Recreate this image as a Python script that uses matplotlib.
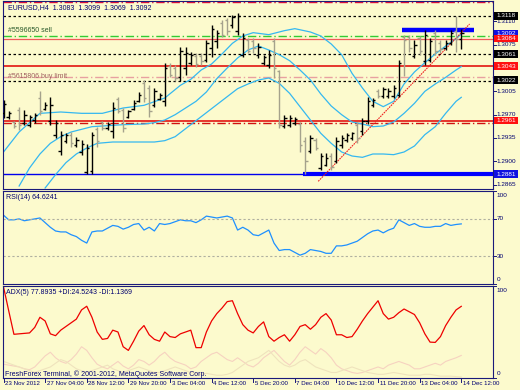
import matplotlib
matplotlib.use('Agg')
import matplotlib.pyplot as plt
import numpy as np
from matplotlib.transforms import blended_transform_factory
from matplotlib.patches import Rectangle

plt.rcParams['font.family'] = ['Liberation Sans', 'DejaVu Sans']

# ---------------- data (EURUSD H4) ----------------
highs = [1.2992, 1.2976, 1.2961, 1.2982, 1.2977, 1.2970, 1.2973, 1.3005, 1.2989, 1.2996,
         1.2962, 1.2946, 1.2943, 1.2944, 1.2937, 1.2932, 1.2926, 1.2944, 1.2952, 1.2961,
         1.2959, 1.2989, 1.2996, 1.2980, 1.2977, 1.2992, 1.3004, 1.3022, 1.3014, 1.3010,
         1.3002, 1.3047, 1.3047, 1.3044, 1.3071, 1.3071, 1.3064, 1.3062, 1.3062, 1.3082,
         1.3104, 1.3097, 1.3112, 1.3115, 1.3120, 1.3122, 1.3092, 1.3085, 1.3085, 1.3077,
         1.3060, 1.3067, 1.3085, 1.3037, 1.2970, 1.2970, 1.2967, 1.2959, 1.2937, 1.2940,
         1.2935, 1.2913, 1.2913, 1.2913, 1.2937, 1.2940, 1.2943, 1.2944, 1.2959, 1.2965,
         1.2996, 1.2995, 1.3008, 1.3011, 1.3010, 1.3014, 1.3052, 1.3090, 1.3090, 1.3082,
         1.3088, 1.3097, 1.3085, 1.3097, 1.3082, 1.3082, 1.3097, 1.3118, 1.3099]
lows = [1.2965, 1.2964, 1.2950, 1.2947, 1.2955, 1.2952, 1.2958, 1.2970, 1.2977, 1.2955,
        1.2935, 1.2910, 1.2928, 1.2922, 1.2922, 1.2910, 1.2881, 1.2881, 1.2922, 1.2947,
        1.2947, 1.2935, 1.2973, 1.2944, 1.2965, 1.2977, 1.2989, 1.2989, 1.2967, 1.2982,
        1.2992, 1.2983, 1.3026, 1.3020, 1.3020, 1.3030, 1.3044, 1.3041, 1.3044, 1.3049,
        1.3056, 1.3070, 1.3086, 1.3090, 1.3100, 1.3090, 1.3056, 1.3062, 1.3062, 1.3055,
        1.3044, 1.3040, 1.3025, 1.2950, 1.2950, 1.2952, 1.2955, 1.2914, 1.2881, 1.2912,
        1.2917, 1.2887, 1.2893, 1.2887, 1.2898, 1.2920, 1.2929, 1.2932, 1.2928, 1.2940,
        1.2956, 1.2982, 1.2995, 1.2995, 1.2995, 1.2995, 1.2996, 1.3028, 1.3064, 1.3055,
        1.3060, 1.3044, 1.3049, 1.3060, 1.3062, 1.3067, 1.3074, 1.3064, 1.3069]
opens = [1.2972, 1.2966, 1.2959, 1.2977, 1.2958, 1.2955, 1.2962, 1.2995, 1.2979, 1.2960,
         1.2940, 1.2915, 1.2930, 1.2940, 1.2925, 1.2914, 1.2884, 1.2885, 1.2948, 1.2959,
         1.2950, 1.2945, 1.2993, 1.2977, 1.2967, 1.2979, 1.2991, 1.3018, 1.3010, 1.2985,
         1.2994, 1.2990, 1.3043, 1.3040, 1.3026, 1.3040, 1.3048, 1.3058, 1.3058, 1.3052,
         1.3070, 1.3080, 1.3108, 1.3112, 1.3104, 1.3096, 1.3060, 1.3082, 1.3080, 1.3060,
         1.3048, 1.3045, 1.3080, 1.3035, 1.2953, 1.2955, 1.2958, 1.2956, 1.2930, 1.2915,
         1.2932, 1.2890, 1.2895, 1.2908, 1.2900, 1.2925, 1.2932, 1.2935, 1.2955, 1.2945,
         1.2960, 1.2985, 1.3005, 1.2998, 1.2998, 1.2998, 1.3000, 1.3086, 1.3086, 1.3058,
         1.3085, 1.3050, 1.3052, 1.3092, 1.3078, 1.3070, 1.3078, 1.3095, 1.3083]
closes = [1.2986, 1.2973, 1.2953, 1.2955, 1.2970, 1.2967, 1.2970, 1.2976, 1.2985, 1.2985,
          1.2958, 1.2940, 1.2940, 1.2928, 1.2932, 1.2926, 1.2920, 1.2940, 1.2930, 1.2950,
          1.2956, 1.2980, 1.2976, 1.2950, 1.2975, 1.2988, 1.3000, 1.2995, 1.2975, 1.3005,
          1.3000, 1.3040, 1.3030, 1.3025, 1.3065, 1.3062, 1.3060, 1.3046, 1.3050, 1.3078,
          1.3098, 1.3092, 1.3090, 1.3095, 1.3116, 1.3118, 1.3085, 1.3066, 1.3070, 1.3072,
          1.3056, 1.3060, 1.3040, 1.2955, 1.2965, 1.2965, 1.2964, 1.2925, 1.2900, 1.2935,
          1.2920, 1.2908, 1.2905, 1.2892, 1.2930, 1.2935, 1.2940, 1.2942, 1.2935, 1.2960,
          1.2990, 1.2992, 1.2998, 1.3008, 1.3006, 1.3010, 1.3048, 1.3082, 1.3070, 1.3075,
          1.3065, 1.3090, 1.3080, 1.3065, 1.3068, 1.3078, 1.3092, 1.3083, 1.3092]

# bands drawn on the price chart (bar index, price)
band_upper_idx = [0, 3, 7, 11, 15, 19, 23, 27, 31, 34, 36, 38, 40, 42, 44, 46, 48, 51, 54, 56,
                  59, 61, 63, 65, 67, 69, 71, 73, 75, 77, 79, 81, 83, 85, 87, 88]
band_upper = [1.2914, 1.2944, 1.2972, 1.2974, 1.2972, 1.2972, 1.2980, 1.2984, 1.2995, 1.3014,
              1.3023, 1.3037, 1.3046, 1.3061, 1.3077, 1.3088, 1.3093, 1.3090, 1.3096, 1.3099,
              1.3094, 1.3088, 1.3076, 1.3060, 1.3032, 1.3010, 1.2990, 1.2982, 1.2990, 1.3016,
              1.3034, 1.3048, 1.3061, 1.3073, 1.3084, 1.3091]
band_mid_idx = [3, 5, 7, 9, 11, 13, 15, 17, 19, 23, 27, 29, 31, 33, 35, 37, 39, 41, 43, 45,
                47, 49, 51, 53, 55, 57, 59, 61, 63, 65, 67, 69, 71, 73, 75, 77, 79, 81, 83, 85,
                87, 88]
band_mid = [1.2863, 1.2890, 1.2911, 1.2927, 1.2937, 1.2944, 1.2948, 1.2952, 1.2953, 1.2955,
            1.2956, 1.2958, 1.2962, 1.2970, 1.2980, 1.2990, 1.3004, 1.3024, 1.3040, 1.3055,
            1.3067, 1.3073, 1.3067, 1.3060, 1.3051, 1.3037, 1.3022, 1.3001, 1.2983, 1.2970,
            1.2959, 1.2956, 1.2952, 1.2953, 1.2959, 1.2972, 1.2987, 1.3005, 1.3016, 1.3026,
            1.3037, 1.3042]
band_lower_idx = [8, 10, 12, 14, 16, 18, 21, 25, 29, 31, 33, 35, 37, 39, 41, 43, 45, 47, 49,
                  51, 53, 55, 57, 59, 61, 63, 65, 67, 69, 71, 73, 75, 77, 79, 81, 83, 85, 87, 88]
band_lower = [1.2860, 1.2880, 1.2898, 1.2911, 1.2920, 1.2927, 1.2929, 1.2929, 1.2929, 1.2931,
              1.2937, 1.2949, 1.2961, 1.2973, 1.2985, 1.2997, 1.3009, 1.3016, 1.3022, 1.3025,
              1.3017, 1.3002, 1.2982, 1.2962, 1.2942, 1.2927, 1.2914, 1.2908, 1.2906, 1.2911,
              1.2911, 1.2910, 1.2914, 1.2923, 1.2940, 1.2952, 1.2972, 1.2990, 1.2996]

rsi = [74, 69, 69, 70, 68, 69, 70, 71, 66, 61,
       57, 56, 56, 53, 51, 47, 44, 56, 57, 57,
       60, 63, 62, 59, 61, 64, 65, 58, 61, 57,
       65, 64, 65, 67, 69, 68, 68, 66, 69, 73,
       72, 71, 72, 73, 71, 58, 61, 58, 53, 52,
       55, 58, 44, 36, 37, 37, 34, 31, 33, 37,
       36, 35, 33, 33, 41, 41, 42, 44, 46, 50,
       54, 57, 58, 55, 58, 60, 69, 66, 63, 65,
       62, 61, 61, 62, 62, 65, 63, 64, 64.6241]
adx = [99, 73, 47.5, 48, 48.5, 49, 55, 66, 62, 48,
       46, 52, 56, 60, 64, 74, 78, 66, 50, 42,
       43, 52, 50, 34, 30, 40, 51, 57, 47, 42,
       40, 50, 45, 44, 48, 50, 52, 33, 33, 50,
       62, 70, 76, 83, 84, 70, 58, 52, 49, 56,
       61, 45, 40, 44, 47, 40, 47, 56, 58, 53,
       58, 66, 70, 63, 47, 47, 44, 45, 53, 62,
       70, 77, 84, 70, 64, 66, 71, 75, 72, 69,
       60, 48, 39, 38.7, 45, 57, 66, 74, 77.8935]
plus_di = [15, 14, 13, 12, 10, 9, 12, 18, 24, 28,
           22, 18, 16, 20, 26, 34, 30, 22, 15, 12,
           10, 14, 18, 13, 10, 14, 20, 18, 14, 18,
           24, 28, 22, 18, 16, 14, 10, 12, 18, 22,
           26, 28, 24, 20, 18, 22, 18, 14, 12, 16,
           22, 26, 30, 24, 18, 14, 20, 28, 34, 30,
           26, 32, 28, 22, 14, 10, 8, 6, 5, 6,
           8, 10, 12, 10, 14, 16, 18, 16, 14, 10,
           10, 12, 14, 16, 14, 18, 20, 22, 24.5243]
minus_di = [18, 16, 14, 12, 10, 8, 6, 8, 10, 12,
            16, 20, 18, 14, 10, 8, 6, 8, 10, 12,
            14, 10, 8, 6, 8, 10, 12, 10, 8, 6,
            6, 8, 10, 12, 10, 8, 6, 5, 4, 5,
            4, 3, 3, 4, 6, 10, 14, 18, 20, 22,
            26, 30, 24, 18, 14, 12, 14, 18, 20, 16,
            12, 10, 8, 6, 6, 8, 10, 12, 10, 8,
            6, 5, 4, 4, 5, 6, 5, 4, 3, 3,
            3, 4, 4, 3, 2, 2, 2, 1.5, 1.1369]

# horizontal levels & drawn objects
level_top = 1.3139
levels_dotted = [1.3118, 1.3061, 1.3021]
level_sell = 1.3088
levels_red = [1.3084, 1.3043, 1.2961]
level_buy_limit = 1.3026
level_red_dashdot = 1.2958
level_support = 1.2881
support_start = 57.6
resist_price = 1.3097
resist_x = [76.7, 90.5]
trend_x = [60.5, 89.6]
trend_y = [1.2870, 1.3106]

price_ticks = [1.3110, 1.3075, 1.3005, 1.2970, 1.2935, 1.2900, 1.2865]
price_boxes = [1.3118, 1.3092, 1.3084, 1.3061, 1.3043, 1.3022, 1.2961, 1.2881]
box_kind = ['k', 'b', 'r', 'k', 'r', 'k', 'r', 'b']
time_pos = [0, 8, 16, 24, 32, 40, 48, 56, 64, 72, 80, 88]
time_labels = ['23 Nov 2012', '27 Nov 04:00', '28 Nov 12:00', '29 Nov 20:00', '3 Dec 04:00',
               '4 Dec 12:00', '5 Dec 20:00', '7 Dec 04:00', '10 Dec 12:00', '11 Dec 20:00',
               '13 Dec 04:00', '14 Dec 12:00']

# ---------------- styling ----------------
BG = '#fcfacd'
NAVY = '#000070'
FRAME = '#1a1a7a'
FS = 5.0      # captions
FSN = 4.6     # scale numbers
FST = 4.4     # time labels
W, H = 520, 390

fig = plt.figure(figsize=(5.2, 3.9), dpi=100, facecolor=BG)

def rect(x0, y0, x1, y1):
    return [x0 / W, 1 - y1 / H, (x1 - x0) / W, (y1 - y0) / H]

ax = fig.add_axes(rect(3, 1, 493, 189))
ax_rsi = fig.add_axes(rect(3, 191, 493, 284))
ax_adx = fig.add_axes(rect(3, 286, 493, 378))
XL = (-0.1, 94.1)
for a in (ax, ax_rsi, ax_adx):
    a.set_facecolor(BG)
    a.set_xlim(*XL)
    a.set_xticks([])
    a.set_yticks([])
    for s in a.spines.values():
        s.set_color(FRAME)
        s.set_linewidth(0.8)

ax.set_ylim(1.28585, 1.31405)

idx = np.arange(len(highs))
o = np.array(opens); c = np.array(closes)
cols = np.where(c >= o, '#000000', '#a5a28c')

# levels
ax.axhline(level_top, color='#e0103a', lw=1.0, ls=(0, (6, 2, 1, 2)))
for lv in levels_dotted:
    ax.axhline(lv, color='#000000', lw=0.9, ls=(0, (2, 2)))
ax.axhline(level_sell, color='#33cc33', lw=1.0, ls=(0, (6, 2, 1, 2)))
ax.axhline(levels_red[0], color='#f05a5a', lw=0.9)
ax.axhline(levels_red[1], color='#e00000', lw=1.1)
ax.axhline(levels_red[2], color='#e00000', lw=1.1)
ax.axhline(level_buy_limit, color='#e8a0a0', lw=1.0, ls=(0, (6, 2, 1, 2)))
ax.axhline(level_red_dashdot, color='#d01010', lw=1.0, ls=(0, (6, 2, 1, 2)))
ax.axhline(level_support, color='#0000ee', lw=1.0)
ax.hlines(level_support, support_start, XL[1], color='#0000ff', lw=3.0)
ax.hlines(resist_price, resist_x[0], resist_x[1], color='#0000ff', lw=3.2)

# bands
band_col = '#35b8f0'
ax.plot(band_upper_idx, band_upper, color=band_col, lw=0.9)
ax.plot(band_mid_idx, band_mid, color=band_col, lw=0.9)
ax.plot(band_lower_idx, band_lower, color=band_col, lw=0.9)

# trend line
ax.plot(trend_x, trend_y, color='#ee2222', lw=0.8, ls=(0, (1.5, 0.8)))

# bars
ax.vlines(idx, lows, highs, colors=cols, lw=1.0, zorder=5)
ax.hlines(opens, idx - 0.45, idx, colors=cols, lw=1.0, zorder=5)
ax.hlines(closes, idx, idx + 0.45, colors=cols, lw=1.0, zorder=5)

# object labels
ax.text(0.8, level_sell + 0.00025, '#5596650 sell', color='#2a5a2a', fontsize=FS,
        va='bottom', ha='left')
ax.text(0.8, level_buy_limit - 0.00035, '#5615806 buy limit', color='#a06060', fontsize=FS,
        va='bottom', ha='left')
ax.text(0.8, 1.3131, 'EURUSD,H4  1.3083  1.3099  1.3069  1.3092', color=NAVY, fontsize=FS,
        va='center', ha='left')

# price scale
tr = blended_transform_factory(ax.transAxes, ax.transData)
for p in price_ticks:
    ax.plot([1.0, 1.006], [p, p], color=FRAME, lw=0.7, transform=tr, clip_on=False)
    ax.text(1.008, p, f'{p:.4f}', color=NAVY, fontsize=FSN, va='center', ha='left',
            transform=tr, clip_on=False)
box_colors = {'k': '#000000', 'b': '#1010e0', 'r': '#ff1010'}
for p, k in zip(price_boxes, box_kind):
    ax.add_patch(Rectangle((1.002, p - 0.00053), 0.049, 0.00106, transform=tr,
                           facecolor=box_colors[k], edgecolor='none', clip_on=False, zorder=10))
    ax.text(1.008, p, f'{p:.4f}', color='white', fontsize=FSN, va='center', ha='left',
            transform=tr, clip_on=False, zorder=11)

# RSI
ax_rsi.set_ylim(0, 100)
ax_rsi.plot(idx, rsi, color='#1e90ff', lw=0.9)
for lv in (70, 30):
    ax_rsi.axhline(lv, color='#b0b0a0', lw=0.8, ls=(0, (2, 2)))
tr2 = blended_transform_factory(ax_rsi.transAxes, ax_rsi.transData)
for v, lab in ((95.5, '100'), (70, '70'), (30, '30'), (4.5, '0')):
    ax_rsi.text(1.008, v, lab, color=NAVY, fontsize=FSN, va='center', ha='left',
                transform=tr2, clip_on=False)
for v in (100, 70, 30, 0):
    ax_rsi.plot([1.0, 1.006], [v, v], color=FRAME, lw=0.7, transform=tr2, clip_on=False)
ax_rsi.text(0.5, 93, 'RSI(14) 64.6241', color=NAVY, fontsize=FS, va='center', ha='left')

# ADX
ax_adx.set_ylim(0, 100)
ax_adx.plot(idx, plus_di, color='#f6d2c0', lw=0.8)
ax_adx.plot(idx, minus_di, color='#efe3bd', lw=0.8)
ax_adx.plot(idx, adx, color='#ee0000', lw=0.9)
tr3 = blended_transform_factory(ax_adx.transAxes, ax_adx.transData)
for v, lab in ((95.5, '100'), (4.5, '0')):
    ax_adx.text(1.008, v, lab, color=NAVY, fontsize=FSN, va='center', ha='left',
                transform=tr3, clip_on=False)
for v in (100, 0):
    ax_adx.plot([1.0, 1.006], [v, v], color=FRAME, lw=0.7, transform=tr3, clip_on=False)
ax_adx.text(0.5, 93, 'ADX(5) 77.8935 +DI:24.5243 -DI:1.1369', color=NAVY, fontsize=FS,
            va='center', ha='left')
ax_adx.text(0.3, 4.5, 'FreshForex Terminal, \u00a9 2001-2012, MetaQuotes Software Corp.',
            color=NAVY, fontsize=FS, va='center', ha='left')

# time scale
tr4 = blended_transform_factory(ax_adx.transData, ax_adx.transAxes)
for t, lab in zip(time_pos, time_labels):
    ax_adx.plot([t, t], [0, -0.045], color=FRAME, lw=0.7, transform=tr4, clip_on=False)
    ax_adx.text(t + 0.3, -0.065, lab, color=NAVY, fontsize=FST, va='center', ha='left',
                transform=tr4, clip_on=False)

fig.savefig('out.png', dpi=100, facecolor=BG)
